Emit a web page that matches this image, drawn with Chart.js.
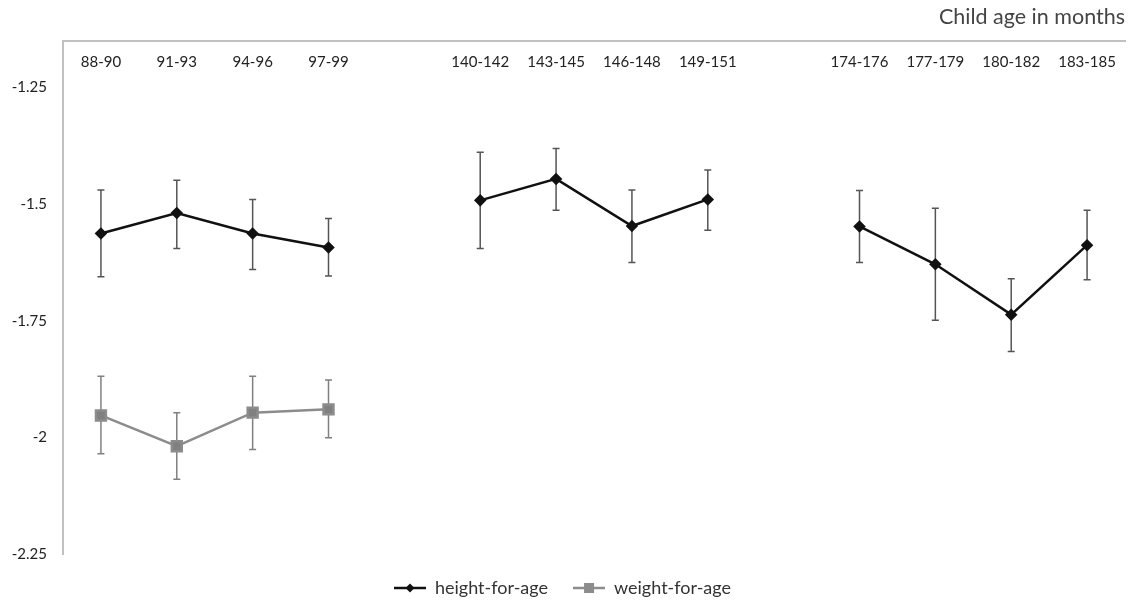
<!DOCTYPE html>
<html>
<head>
<meta charset="utf-8">
<script src="https://cdn.jsdelivr.net/npm/chart.js@4.4.1/dist/chart.umd.min.js"></script>
<style>
  html, body { margin: 0; padding: 0; background: #fff; }
  #wrap { width: 1139px; height: 603px; }
</style>
</head>
<body>
<div id="wrap"><canvas id="chart"></canvas></div>
<script>
// categories (blank entries are the gaps between the age groups)
var ageGroups = ['88-90', '91-93', '94-96', '97-99', '',
                 '140-142', '143-145', '146-148', '149-151', '',
                 '174-176', '177-179', '180-182', '183-185'];

// height-for-age z-scores with lower / upper bounds of the error bars
var heightForAge = [-1.563, -1.519, -1.563, -1.593, null, -1.492, -1.446, -1.547, -1.490, null, -1.548, -1.629, -1.737, -1.588];
var heightLow    = [-1.656, -1.595, -1.640, -1.654, null, -1.595, -1.513, -1.625, -1.556, null, -1.625, -1.749, -1.816, -1.662];
var heightHigh   = [-1.470, -1.449, -1.490, -1.531, null, -1.389, -1.381, -1.470, -1.427, null, -1.471, -1.509, -1.660, -1.513];

// weight-for-age only measured in the first wave
var weightForAge = [-1.953, -2.019, -1.947, -1.940, null, null, null, null, null, null, null, null, null, null];
var weightLow    = [-2.035, -2.090, -2.026, -2.001, null, null, null, null, null, null, null, null, null, null];
var weightHigh   = [-1.869, -1.947, -1.869, -1.877, null, null, null, null, null, null, null, null, null, null];

var yTicks = [-2.25, -2, -1.75, -1.5, -1.25];

// legend glyphs: line with marker
function legendGlyph(color, shape) {
    var c = document.createElement('canvas');
    c.width = 32; c.height = 12;
    var g = c.getContext('2d');
    g.strokeStyle = color;
    g.lineWidth = 2.5;
    g.beginPath(); g.moveTo(0, 6); g.lineTo(32, 6); g.stroke();
    g.fillStyle = color;
    g.beginPath();
    if (shape === 'diamond') {
        g.moveTo(16, 1.5); g.lineTo(20.5, 6); g.lineTo(16, 10.5); g.lineTo(11.5, 6);
    } else {
        g.rect(11, 1, 10, 10);
    }
    g.closePath(); g.fill();
    return c;
}

var errorBars = {
    id: 'errorBars',
    beforeDatasetsDraw: function (chart) {
        var ctx = chart.ctx;
        var x = chart.scales.x, y = chart.scales.y;
        chart.data.datasets.forEach(function (ds) {
            ctx.save();
            ctx.strokeStyle = ds.errColor;
            ctx.lineWidth = 1.5;
            ds.data.forEach(function (v, i) {
                if (v === null) return;
                var px = x.getPixelForValue(i);
                var top = y.getPixelForValue(ds.errHigh[i]);
                var bot = y.getPixelForValue(ds.errLow[i]);
                ctx.beginPath();
                ctx.moveTo(px, top); ctx.lineTo(px, bot);
                ctx.moveTo(px - 3.5, top); ctx.lineTo(px + 3.5, top);
                ctx.moveTo(px - 3.5, bot); ctx.lineTo(px + 3.5, bot);
                ctx.stroke();
            });
            ctx.restore();
        });
    }
};

Chart.defaults.font.family = 'Lato, "Open Sans", sans-serif';
Chart.defaults.color = '#333';

new Chart(document.getElementById('chart'), {
    type: 'line',
    data: {
        labels: ageGroups,
        datasets: [{
            label: 'height-for-age',
            data: heightForAge,
            errLow: heightLow,
            errHigh: heightHigh,
            errColor: '#555',
            borderColor: '#111',
            backgroundColor: '#111',
            borderWidth: 2.5,
            pointStyle: 'rectRot',
            pointRadius: 4.5,
            pointHoverRadius: 4.5,
            spanGaps: false,
            tension: 0
        }, {
            label: 'weight-for-age',
            data: weightForAge,
            errLow: weightLow,
            errHigh: weightHigh,
            errColor: '#808080',
            borderColor: '#8c8c8c',
            backgroundColor: '#808080',
            borderWidth: 2.5,
            pointStyle: 'rect',
            pointRadius: 7,
            pointHoverRadius: 7,
            spanGaps: false,
            tension: 0
        }]
    },
    options: {
        responsive: true,
        maintainAspectRatio: false,
        animation: false,
        layout: { padding: { left: 0, right: 14, top: 4, bottom: -4 } },
        plugins: {
            title: {
                display: true,
                text: 'Child age in months',
                align: 'end',
                color: '#444',
                font: { size: 21.5, weight: 'normal' },
                padding: { top: 0, bottom: 3 }
            },
            legend: {
                position: 'bottom',
                labels: {
                    usePointStyle: true,
                    pointStyleWidth: 32,
                    padding: 25,
                    color: '#333',
                    font: { size: 18 },
                    generateLabels: function (chart) {
                        return chart.data.datasets.map(function (ds, i) {
                            return {
                                text: ds.label,
                                pointStyle: legendGlyph(ds.borderColor, i === 0 ? 'diamond' : 'square'),
                                datasetIndex: i,
                                lineWidth: 0,
                                fontColor: '#333'
                            };
                        });
                    }
                }
            },
            tooltip: { enabled: false }
        },
        scales: {
            x: {
                position: 'top',
                offset: true,
                grid: { display: false, drawTicks: false, offset: true },
                border: { display: true, color: '#c0c0c0', width: 2 },
                ticks: { mirror: true, padding: 12, color: '#222', font: { size: 15 }, maxRotation: 0, autoSkip: false },
                afterFit: function (scale) {
                    scale.height = 8;
                    scale.paddingLeft = 0;
                    scale.paddingRight = 0;
                }
            },
            y: {
                min: -2.25,
                max: -1.15,
                grid: { display: false },
                border: { display: true, color: '#c0c0c0', width: 2 },
                ticks: {
                    padding: 8,
                    color: '#222',
                    font: { size: 15 },
                    callback: function (v) { return String(v); }
                },
                afterBuildTicks: function (scale) {
                    scale.ticks = yTicks.map(function (v) { return { value: v }; });
                },
                afterFit: function (scale) { scale.width = 63; }
            }
        }
    },
    plugins: [errorBars]
});
</script>
</body>
</html>
